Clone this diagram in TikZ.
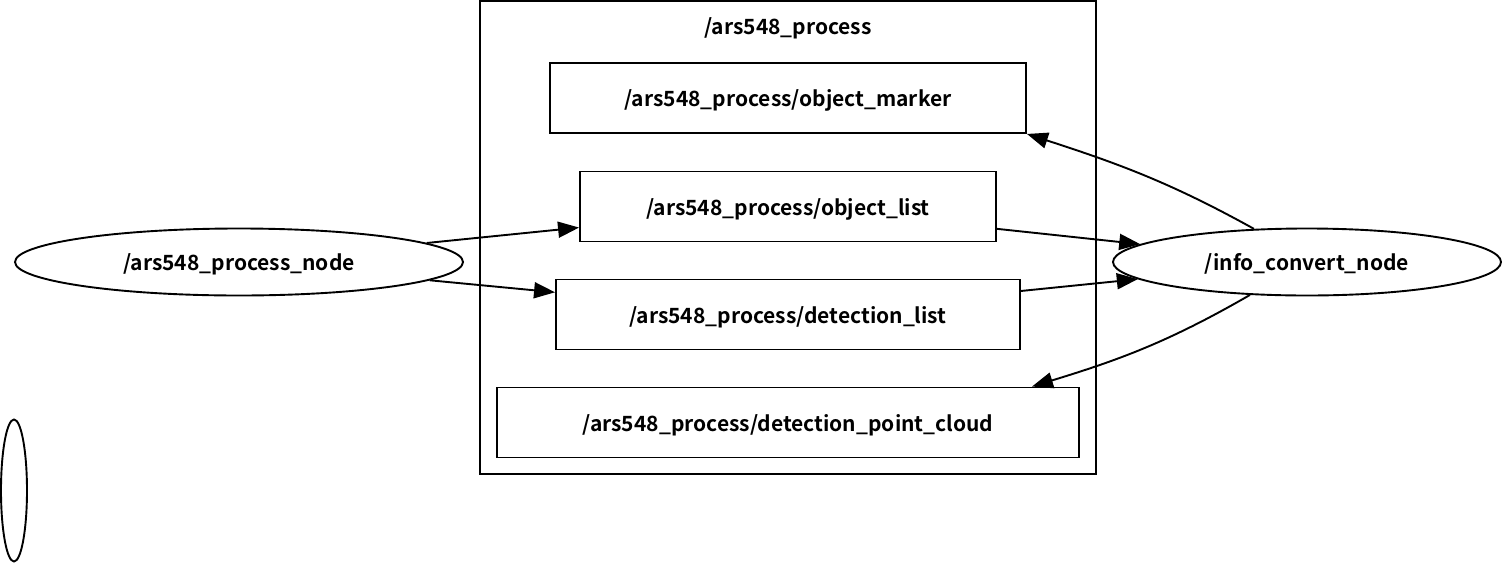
\documentclass[tikz,border=0pt]{standalone}
\usepackage{fontspec}
\setmainfont{Noto Sans CJK SC}[BoldFont={Noto Sans CJK SC Bold}]
\usetikzlibrary{shapes.geometric,arrows.meta}
\begin{document}
\begin{tikzpicture}[x=1pt, y=1pt, -{Triangle[length=21pt,width=16pt]}, line width=1.9pt,
    font=\fontsize{21}{25}\selectfont\bfseries, text depth=0pt,
    topic node/.style={draw, rectangle, inner sep=0pt, minimum height=70pt},
    ros node/.style={draw, ellipse, inner sep=0pt, minimum height=67pt}]
    \useasboundingbox (0,0) rectangle (1502,-563);
    % group of topics
    \node[draw, rectangle, inner sep=0pt, minimum width=616pt, minimum height=473pt] (group) at (788,-237.5) {};
    \node[draw=none] (title) at (788,-26) {/ars548\_process};
    \node[topic node, minimum width=476pt] (marker) at (788,-98) {/ars548\_process/object\_marker};
    \node[topic node, minimum width=416pt] (olist) at (788,-206.5) {/ars548\_process/object\_list};
    \node[topic node, minimum width=464pt] (dlist) at (788,-314.5) {/ars548\_process/detection\_list};
    \node[topic node, minimum width=582pt] (cloud) at (788,-422.5) {/ars548\_process/detection\_point\_cloud};
    % nodes
    \node[ros node, minimum width=448pt] (proc) at (239,-262) {/ars548\_process\_node};
    \node[ros node, minimum width=388pt] (info) at (1307,-262) {/info\_convert\_node};
    \node[ros node, minimum width=26pt, minimum height=142pt] (empty) at (14,-490.5) {};
    \path (proc) edge (olist)
          (proc) edge (dlist)
          (olist) edge (info)
          (dlist) edge (info)
          (info.148) edge[out=151, in=-18] (marker.south east)
          (info.210) edge[out=210, in=17] ([xshift=-48pt]cloud.north east);
\end{tikzpicture}
\end{document}
